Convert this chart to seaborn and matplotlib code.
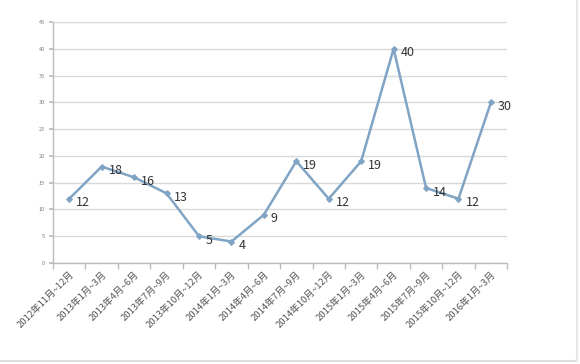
import numpy as np
import pandas as pd
import matplotlib
matplotlib.use("Agg")
import matplotlib.pyplot as plt
import seaborn as sns

periods = ["2012年11月~12月", "2013年1月~3月", "2013年4月~6月", "2013年7月~9月",
           "2013年10月~12月", "2014年1月~3月", "2014年4月~6月", "2014年7月~9月",
           "2014年10月~12月", "2015年1月~3月", "2015年4月~6月", "2015年7月~9月",
           "2015年10月~12月", "2016年1月~3月"]
counts = [12, 18, 16, 13, 5, 4, 9, 19, 12, 19, 40, 14, 12, 30]
y_ticks = list(range(0, 50, 5))

sns.set_theme(style="white")
plt.rcParams['font.family'] = ['Noto Sans CJK SC', 'DejaVu Sans']

df = pd.DataFrame({"pos": np.arange(len(periods)), "count": counts})

fig = plt.figure(figsize=(5.8, 3.64), dpi=100)
ax = fig.add_axes([0.0914, 0.2775, 0.783, 0.662])

sns.lineplot(data=df, x="pos", y="count", ax=ax, color="#80a4c4", linewidth=1.8,
             marker="D", markersize=3, markeredgecolor="#80a4c4")

for x, y in zip(df["pos"], df["count"]):
    ax.annotate(str(y), (x, y), xytext=(5, -3), textcoords="offset points",
                fontsize=9, color="#333333", va="center", ha="left")

ax.set_ylim(0, 45)
ax.set_yticks(y_ticks)
ax.set_yticklabels([str(v) for v in y_ticks], fontsize=4, color="#777777")
ax.yaxis.grid(True, color="#d9d9d9", linewidth=1)
ax.set_xlim(-0.5, len(periods) - 0.5)
ax.set_xticks(df["pos"])
ax.set_xticklabels(periods, rotation=45, ha="right", rotation_mode="anchor",
                   fontsize=6.8, color="#555555")
ax.set_xticks(np.arange(len(periods) + 1) - 0.5, minor=True)
ax.tick_params(axis="x", which="major", length=0, pad=5)
ax.tick_params(axis="x", which="minor", length=4, color="#bbbbbb", bottom=True)
ax.tick_params(axis="y", length=3, color="#bbbbbb", left=True, pad=3)
ax.set_xlabel("")
ax.set_ylabel("")
for s in ["top", "right"]:
    ax.spines[s].set_visible(False)
for s in ["left", "bottom"]:
    ax.spines[s].set_color("#bbbbbb")
    ax.spines[s].set_linewidth(1)

# faint frame of the screenshot
fig.add_artist(plt.Line2D([0, 0.995], [0.008, 0.008], color="#dddddd", linewidth=1.5))
fig.add_artist(plt.Line2D([0.995, 0.995], [0.008, 1], color="#e6e6e6", linewidth=1.5))

fig.savefig("out.png", dpi=100, facecolor="white")
